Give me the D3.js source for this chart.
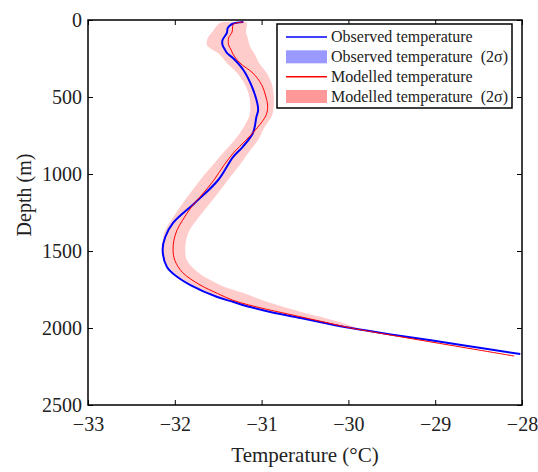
<!DOCTYPE html>
<html>
<head>
<meta charset="utf-8">
<script src="https://cdn.jsdelivr.net/npm/d3@7"></script>
<style>
  html, body { margin: 0; padding: 0; background: #fff; }
  svg { display: block; }
  svg text { font-family: 'Liberation Serif', Tinos, 'Times New Roman', 'DejaVu Serif', serif; }
</style>
</head>
<body>
<svg id="chart" width="538" height="472"></svg>
<script>
// Borehole temperature profile: observed vs modelled temperature with depth.

const xTicks = [-33, -32, -31, -30, -29, -28];
const yTicks = [0, 500, 1000, 1500, 2000, 2500];

// Observed temperature (°C) at depth (m)
const obsDepth = [13, 26, 52, 84, 130, 162, 195, 214, 247, 325, 435, 539, 584, 630, 734, 825, 890, 1039, 1188, 1318, 1409, 1494, 1604, 1669, 1721, 1799, 1830, 1864, 1896, 1935, 1970, 2000, 2040, 2080, 2125, 2169];
const obsTemp  = [-31.21, -31.34, -31.39, -31.40, -31.45, -31.45, -31.42, -31.40, -31.33, -31.21, -31.11, -31.05, -31.04, -31.06, -31.10, -31.22, -31.33, -31.50, -31.77, -32.02, -32.11, -32.14, -32.09, -31.97, -31.82, -31.51, -31.33, -31.13, -30.90, -30.55, -30.25, -29.97, -29.53, -29.05, -28.53, -28.02];

// Modelled temperature (°C) and its 2σ envelope at depth (m)
const modelDepth = [13, 22, 32, 78, 117, 162, 195, 221, 279, 345, 420, 500, 560, 620, 700, 780, 860, 940, 1040, 1130, 1215, 1300, 1365, 1430, 1495, 1560, 1640, 1720, 1775, 1820, 1850, 1880, 1900, 1940, 1970, 2000, 2050, 2100, 2140, 2182];
const modelTemp  = [-31.21, -31.31, -31.33, -31.34, -31.38, -31.38, -31.35, -31.33, -31.25, -31.10, -31.00, -30.95, -30.93, -30.95, -31.05, -31.18, -31.32, -31.43, -31.55, -31.68, -31.81, -31.91, -31.975, -32.01, -32.02, -32.00, -31.91, -31.71, -31.51, -31.33, -31.15, -30.93, -30.77, -30.45, -30.21, -29.97, -29.47, -28.95, -28.53, -28.09];
const modelLow   = [-31.45, -31.49, -31.51, -31.57, -31.62, -31.63, -31.56, -31.49, -31.40, -31.28, -31.19, -31.14, -31.13, -31.14, -31.21, -31.31, -31.44, -31.56, -31.71, -31.83, -31.94, -32.04, -32.11, -32.14, -32.15, -32.12, -32.01, -31.81, -31.61, -31.42, -31.23, -31.00, -30.83, -30.50, -30.25, -30.00, -29.49, -28.96, -28.54, -28.09];
const modelHigh  = [-31.18, -31.17, -31.17, -31.18, -31.16, -31.14, -31.11, -31.08, -31.03, -30.94, -30.88, -30.86, -30.86, -30.88, -30.97, -31.04, -31.15, -31.25, -31.39, -31.51, -31.63, -31.75, -31.83, -31.87, -31.88, -31.86, -31.73, -31.48, -31.20, -30.99, -30.82, -30.64, -30.52, -30.24, -30.05, -29.89, -29.42, -28.93, -28.52, -28.09];

const legendLabels = ["Observed temperature", "Observed temperature  (2σ)", "Modelled temperature", "Modelled temperature  (2σ)"];

const serif = "'Liberation Serif', Tinos, 'Times New Roman', 'DejaVu Serif', serif";
const svg = d3.select("#chart");
const plot = { left: 88, top: 20, right: 522, bottom: 405 };

const x = d3.scaleLinear().domain([-33, -28]).range([plot.left, plot.right]);
const y = d3.scaleLinear().domain([0, 2500]).range([plot.top, plot.bottom]);

svg.append("defs").append("clipPath").attr("id", "plot-clip")
  .append("rect")
  .attr("x", plot.left).attr("y", plot.top)
  .attr("width", plot.right - plot.left).attr("height", plot.bottom - plot.top);

const g = svg.append("g").attr("clip-path", "url(#plot-clip)");

const observed = obsDepth.map((d, i) => ({ depth: d, t: obsTemp[i] }));
const modelled = modelDepth.map((d, i) => ({ depth: d, t: modelTemp[i], lo: modelLow[i], hi: modelHigh[i] }));

const curve = d3.curveCatmullRom.alpha(0.5);

// 2σ envelope of the model
g.append("path")
  .datum(modelled)
  .attr("fill", "#ff9999")
  .attr("fill-opacity", 0.5)
  .attr("d", d3.area().curve(curve)
    .y(d => y(d.depth))
    .x0(d => x(d.lo))
    .x1(d => x(d.hi)));

g.append("path")
  .datum(observed)
  .attr("fill", "none")
  .attr("stroke", "#0000ff")
  .attr("stroke-width", 2)
  .attr("d", d3.line().curve(curve).x(d => x(d.t)).y(d => y(d.depth)));

g.append("path")
  .datum(modelled)
  .attr("fill", "none")
  .attr("stroke", "#ff0000")
  .attr("stroke-width", 1)
  .attr("d", d3.line().curve(curve).x(d => x(d.t)).y(d => y(d.depth)));

// Axes with inward ticks on all four sides
const styleAxis = sel => {
  sel.attr("font-family", serif).attr("font-size", 20);
  sel.select(".domain").remove();
  sel.selectAll(".tick line").attr("stroke", "#000").attr("stroke-width", 1);
  sel.selectAll("text").attr("fill", "#222");
};

svg.append("g").attr("transform", `translate(0,${plot.bottom})`)
  .call(d3.axisBottom(x).tickValues(xTicks).tickFormat(d3.format("d")).tickSize(-5).tickPadding(12))
  .call(styleAxis);
svg.append("g").attr("transform", `translate(0,${plot.top})`)
  .call(d3.axisTop(x).tickValues(xTicks).tickFormat("").tickSize(-5))
  .call(styleAxis);
svg.append("g").attr("transform", `translate(${plot.left},0)`)
  .call(d3.axisLeft(y).tickValues(yTicks).tickFormat(d3.format("d")).tickSize(-5).tickPadding(6))
  .call(styleAxis);
svg.append("g").attr("transform", `translate(${plot.right},0)`)
  .call(d3.axisRight(y).tickValues(yTicks).tickFormat("").tickSize(-5))
  .call(styleAxis);

svg.append("rect")
  .attr("x", plot.left).attr("y", plot.top)
  .attr("width", plot.right - plot.left).attr("height", plot.bottom - plot.top)
  .attr("fill", "none").attr("stroke", "#000").attr("stroke-width", 1.5);

// Axis titles
svg.append("text")
  .attr("x", (plot.left + plot.right) / 2).attr("y", 462)
  .attr("text-anchor", "middle").attr("fill", "#222")
  .attr("font-family", serif).attr("font-size", 21)
  .text("Temperature (°C)");

svg.append("text")
  .attr("transform", "translate(31,195) rotate(-90)")
  .attr("text-anchor", "middle").attr("fill", "#222")
  .attr("font-family", serif).attr("font-size", 20)
  .text("Depth (m)");

// Legend
const legend = svg.append("g");
legend.append("rect")
  .attr("x", 277).attr("y", 24).attr("width", 235).attr("height", 84)
  .attr("fill", "#fff").attr("stroke", "#000").attr("stroke-width", 1.5);

const legendItems = [
  { type: "line", color: "#0000ff", width: 1.5 },
  { type: "patch", color: "#9999ff" },
  { type: "line", color: "#ff0000", width: 1.5 },
  { type: "patch", color: "#ff9999" }
];
const rowY = d3.scalePoint().domain(d3.range(legendLabels.length)).range([37, 96.5]);

legendItems.forEach((item, i) => {
  const cy = rowY(i);
  if (item.type === "line") {
    legend.append("line")
      .attr("x1", 286).attr("x2", 327).attr("y1", cy).attr("y2", cy)
      .attr("stroke", item.color).attr("stroke-width", item.width);
  } else {
    legend.append("rect")
      .attr("x", 286).attr("y", cy - 6.5).attr("width", 41).attr("height", 13)
      .attr("fill", item.color);
  }
  legend.append("text")
    .attr("x", 331).attr("y", cy).attr("dy", "0.33em")
    .attr("fill", "#222")
    .attr("font-family", serif).attr("font-size", 16)
    .style("white-space", "pre")
    .text(legendLabels[i]);
});
</script>
</body>
</html>
